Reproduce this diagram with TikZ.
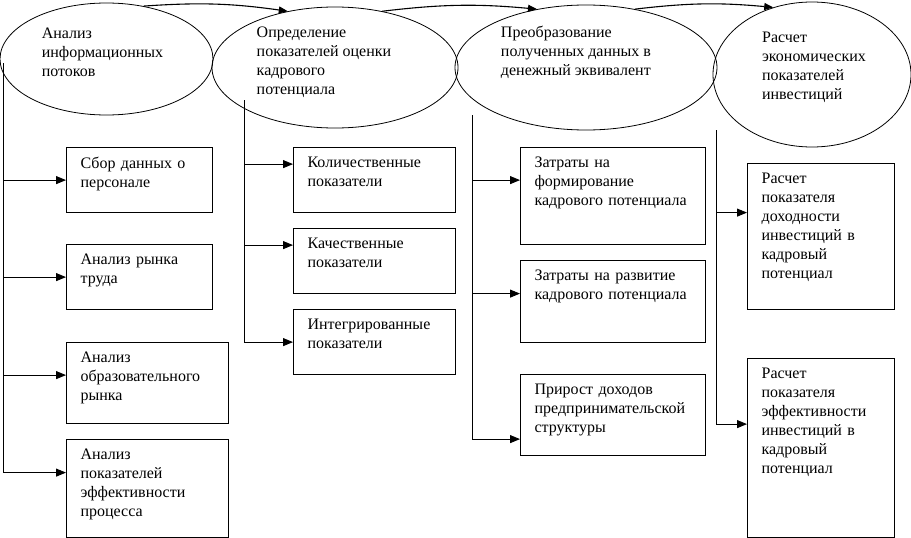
\documentclass[tikz,border=0pt]{standalone}
\usepackage{fontspec}
\setmainfont{Liberation Serif}
\usetikzlibrary{arrows.meta,shapes.geometric}
\newcommand{\boxtxt}[2]{\parbox[t][#1][t]{\linewidth}{\raggedright #2}}
\newcommand{\stagetxt}[3]{\raisebox{#2}[\height][\depth]{\begin{tabular}{@{}l@{\hspace{#1}}}#3\end{tabular}}}

\begin{document}
\begin{tikzpicture}[
    x=1pt, y=-1pt,
    phase/.style={draw, ellipse, line width=0.8pt, inner sep=0pt, font=\fontsize{16}{19}\selectfont},
    box/.style={draw, line width=1.2pt, anchor=north west, inner xsep=14pt, inner ysep=9pt, text width=#1, font=\fontsize{16}{19}\selectfont},
    link/.style={-{Triangle[length=10pt, width=8pt]}, line width=0.9pt},
    turn/.style={-{Triangle[length=9pt, width=7pt]}, line width=1.1pt}
]
\useasboundingbox (0,0) rectangle (911,538);

% stages
\node[phase, minimum width=213pt, minimum height=112pt] (flows) at (106.5,59) {\stagetxt{8pt}{5pt}{Анализ\\информационных\\потоков}};
\node[phase, minimum width=246pt, minimum height=121pt] (ind) at (335,67.5) {\stagetxt{22pt}{5pt}{Определение\\показателей оценки\\кадрового\\потенциала}};
\node[phase, minimum width=262pt, minimum height=125pt] (conv) at (586,67.5) {\stagetxt{20pt}{15pt}{Преобразование\\полученных данных в\\денежный эквивалент}};
\node[phase, minimum width=198pt, minimum height=145pt] (econ) at (812,74.5) {\stagetxt{-4pt}{7pt}{Расчет\\экономических\\показателей\\инвестиций}};

\draw[turn] (flows.55) to[bend left=6] (ind.130);
\draw[turn] (ind.50) to[bend left=6] (conv.130);
\draw[turn] (conv.50) to[bend left=6] (econ.120);

% first column
\node[box=118pt] (collect) at (66,147) {\boxtxt{47pt}{Сбор данных о\\персонале}};
\node[box=118pt] (labour) at (66,244) {\boxtxt{47pt}{Анализ рынка\\труда}};
\node[box=134pt] (edu) at (66,342) {\boxtxt{63pt}{Анализ\\образовательного\\рынка}};
\node[box=134pt] (effic) at (66,439) {\boxtxt{80pt}{Анализ\\показателей\\эффективности\\процесса}};

% second column
\node[box=134pt] (quant) at (293,147) {\boxtxt{47pt}{Количественные\\показатели}};
\node[box=134pt] (qual) at (293,228) {\boxtxt{47pt}{Качественные\\показатели}};
\node[box=134pt] (integr) at (293,309) {\boxtxt{47pt}{Интегрированные\\показатели}};

% third column
\node[box=157pt] (formc) at (520,147) {\boxtxt{79pt}{Затраты на\\формирование\\кадрового потенциала}};
\node[box=157pt] (devc) at (520,260) {\boxtxt{64pt}{Затраты на развитие\\кадрового потенциала}};
\node[box=157pt] (incr) at (520,374) {\boxtxt{63pt}{Прирост доходов\\предпринимательской\\структуры}};

% fourth column
\node[box=119pt] (yield) at (747,163) {\boxtxt{128pt}{Расчет\\показателя\\доходности\\инвестиций в\\кадровый\\потенциал}};
\node[box=119pt] (effinv) at (747,358) {\boxtxt{161pt}{Расчет\\показателя\\эффективности\\инвестиций в\\кадровый\\потенциал}};

% trunks
\coordinate (t1) at (3,63);
\coordinate (t2) at (244,100);
\coordinate (t3) at (472,115);
\coordinate (t4) at (716,130);

\draw[link] (t1) |- (collect.west);
\draw[link] (t1) |- (labour.west);
\draw[link] (t1) |- ([yshift=8pt]edu.west);
\draw[link] (t1) |- ([yshift=16pt]effic.west);

\draw[link] (t2) |- ([yshift=16pt]quant.west);
\draw[link] (t2) |- ([yshift=16pt]qual.west);
\draw[link] (t2) |- (integr.west);

\draw[link] (t3) |- ([yshift=16pt]formc.west);
\draw[link] (t3) |- ([yshift=8pt]devc.west);
\draw[link] (t3) |- ([yshift=-24pt]incr.west);

\draw[link] (t4) |- ([yshift=24pt]yield.west);
\draw[link] (t4) |- ([yshift=24pt]effinv.west);
\end{tikzpicture}
\end{document}
